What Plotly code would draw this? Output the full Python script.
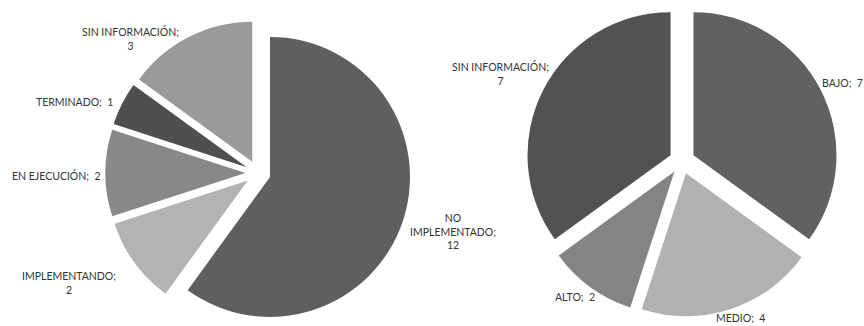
import plotly.graph_objects as go

# ---- data ----
left_labels = ["NO IMPLEMENTADO", "IMPLEMENTANDO", "EN EJECUCIÓN", "TERMINADO", "SIN INFORMACIÓN"]
left_values = [12, 2, 2, 1, 3]
left_colors = ["#5f5f5f", "#b3b3b3", "#888888", "#4f4f4f", "#9a9a9a"]

right_labels = ["BAJO", "MEDIO", "ALTO", "SIN INFORMACIÓN"]
right_values = [7, 4, 2, 7]
right_colors = ["#616161", "#b1b1b1", "#848484", "#525252"]

W, H = 864, 326
PULL = 0.09


def domain_from_px(cx, cy, r, pull):
    half = r * (1 + pull)
    return dict(x=[(cx - half) / W, (cx + half) / W],
                y=[(H - (cy + half)) / H, (H - (cy - half)) / H])


fig = go.Figure()
fig.add_trace(go.Pie(
    labels=left_labels, values=left_values, sort=False, direction="clockwise",
    rotation=0, pull=[PULL] * len(left_values),
    marker=dict(colors=left_colors, line=dict(width=0)),
    textinfo="none", hoverinfo="label+value",
    domain=domain_from_px(258, 173, 140, PULL), showlegend=False,
))
fig.add_trace(go.Pie(
    labels=right_labels, values=right_values, sort=False, direction="clockwise",
    rotation=0, pull=[PULL] * len(right_values),
    marker=dict(colors=right_colors, line=dict(width=0)),
    textinfo="none", hoverinfo="label+value",
    domain=domain_from_px(682, 161, 143, PULL), showlegend=False,
))

# label text built from the data; placement (pixel centres) kept separate
NB = "\u00a0"
left_text = [
    "NO<br>IMPLEMENTADO;<br>%d" % left_values[0],
    "%s;<br>%d" % (left_labels[1], left_values[1]),
    "%s;%s %d" % (left_labels[2], NB, left_values[2]),
    "%s;%s %d" % (left_labels[3], NB, left_values[3]),
    "%s;<br>%d" % (left_labels[4], left_values[4]),
]
left_pos = [(453, 231), (69, 283), (56, 175), (74, 102), (130, 38)]
right_text = [
    "%s;%s %d" % (right_labels[0], NB, right_values[0]),
    "%s;%s %d" % (right_labels[1], NB, right_values[1]),
    "%s;%s %d" % (right_labels[2], NB, right_values[2]),
    "%s;<br>%d" % (right_labels[3], right_values[3]),
]
right_pos = [(842, 83), (740, 318), (575, 297), (500, 73)]

for txt, (px, py) in list(zip(left_text, left_pos)) + list(zip(right_text, right_pos)):
    fig.add_annotation(
        text=txt, x=px / W, y=(H - py) / H, xref="paper", yref="paper",
        xanchor="center", yanchor="middle", showarrow=False,
        font=dict(family="Lato", size=10.5, color="#333333"),
    )

fig.update_layout(
    width=W, height=H, margin=dict(l=0, r=0, t=0, b=0),
    paper_bgcolor="white", plot_bgcolor="white",
)

fig.write_html("out.html", config={"displayModeBar": False},
               post_script="document.body.style.margin='0';")
